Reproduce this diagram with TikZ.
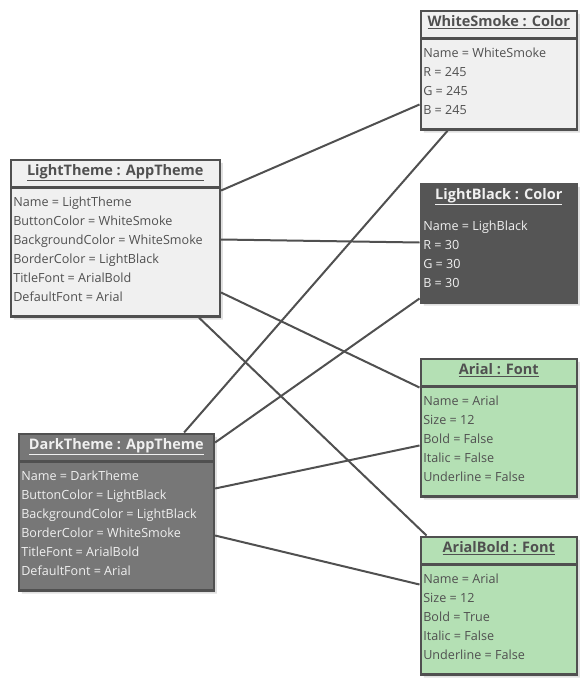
\documentclass[tikz,border=0pt]{standalone}
\usepackage{fontspec}
\setmainfont{Open Sans}
\usetikzlibrary{shapes.multipart, shadows}
\definecolor{frame}{HTML}{505050}
\definecolor{ink}{HTML}{505050}
\definecolor{smokefill}{HTML}{F0F0F0}
\definecolor{darkfill}{HTML}{777777}
\definecolor{blackfill}{HTML}{555555}
\definecolor{fontfill}{HTML}{B4E0B4}
\newcommand{\objtitle}[1]{\rule[-5pt]{0pt}{14pt}\smash{\bfseries\fontsize{14.5}{16}\selectfont\underline{#1}}}
\newcommand{\bodystart}{\rule{0pt}{12pt}}
\newcommand{\bodyend}{\rule[-8.5pt]{0pt}{1pt}}

\begin{document}
\begin{tikzpicture}[x=1pt, y=-1pt,
  obj/.style={rectangle split, rectangle split parts=2,
              rectangle split part align={center,left},
              draw=frame, line width=2.6pt, fill=smokefill, text=ink,
              align=left, font=\fontsize{12.6}{19}\selectfont,
              inner xsep=2.5pt, inner ysep=5.5pt, anchor=north west,
              drop shadow={shadow xshift=3pt, shadow yshift=-3pt,
                           opacity=0.12, fill=black}},
  darkobj/.style={obj, fill=darkfill, text=smokefill},
  blackobj/.style={obj, draw=blackfill, fill=blackfill, text=smokefill},
  fontobj/.style={obj, fill=fontfill},
  link/.style={draw=frame, line width=2pt}
]
\useasboundingbox (0,0) rectangle (588,683);

% colours
\node[obj, minimum width=156pt] (whitesmoke) at (419.5,9.5)
  {\objtitle{WhiteSmoke : Color}
   \nodepart{second}\bodystart Name = WhiteSmoke\\ R = 245\\ G = 245\\ B = 245\bodyend};
\node[blackobj, minimum width=156pt] (lightblack) at (419.5,182.5)
  {\objtitle{LightBlack : Color}
   \nodepart{second}\bodystart Name = LighBlack\\ R = 30\\ G = 30\\ B = 30\bodyend};

% fonts
\node[fontobj, minimum width=156pt] (arial) at (419.5,357.5)
  {\objtitle{Arial : Font}
   \nodepart{second}\bodystart Name = Arial\\ Size = 12\\ Bold = False\\ Italic = False\\ Underline = False\bodyend};
\node[fontobj, minimum width=156pt] (arialbold) at (419.5,535.5)
  {\objtitle{ArialBold : Font}
   \nodepart{second}\bodystart Name = Arial\\ Size = 12\\ Bold = True\\ Italic = False\\ Underline = False\bodyend};

% themes
\node[obj, minimum width=209pt] (lighttheme) at (9.5,158.5)
  {\objtitle{LightTheme : AppTheme}
   \nodepart{second}\bodystart Name = LightTheme\\ ButtonColor = WhiteSmoke\\ BackgroundColor = WhiteSmoke\\
   BorderColor = LightBlack\\ TitleFont = ArialBold\\ DefaultFont = Arial\bodyend};
\node[darkobj, minimum width=195pt] (darktheme) at (17.5,432.5)
  {\objtitle{DarkTheme : AppTheme}
   \nodepart{second}\bodystart Name = DarkTheme\\ ButtonColor = LightBlack\\ BackgroundColor = LightBlack\\
   BorderColor = WhiteSmoke\\ TitleFont = ArialBold\\ DefaultFont = Arial\bodyend};

% links
\draw[link] ([yshift=-32pt]lighttheme.north east) -- ([yshift=-95pt]whitesmoke.north west);
\draw[link] ([yshift=-81pt]lighttheme.north east) -- ([yshift=-60pt]lightblack.north west);
\draw[link] ([yshift=-134pt]lighttheme.north east) -- ([yshift=-30pt]arial.north west);
\draw[link] ([xshift=-22pt]lighttheme.south east) -- ([xshift=7pt]arialbold.north west);
\draw[link] ([xshift=-31pt]darktheme.north east) -- ([xshift=28pt]whitesmoke.south west);
\draw[link] ([yshift=-10pt]darktheme.north east) -- ([yshift=-116pt]lightblack.north west);
\draw[link] ([yshift=-56pt]darktheme.north east) -- ([yshift=-88pt]arial.north west);
\draw[link] ([yshift=-103pt]darktheme.north east) -- ([yshift=-49pt]arialbold.north west);
\end{tikzpicture}
\end{document}
